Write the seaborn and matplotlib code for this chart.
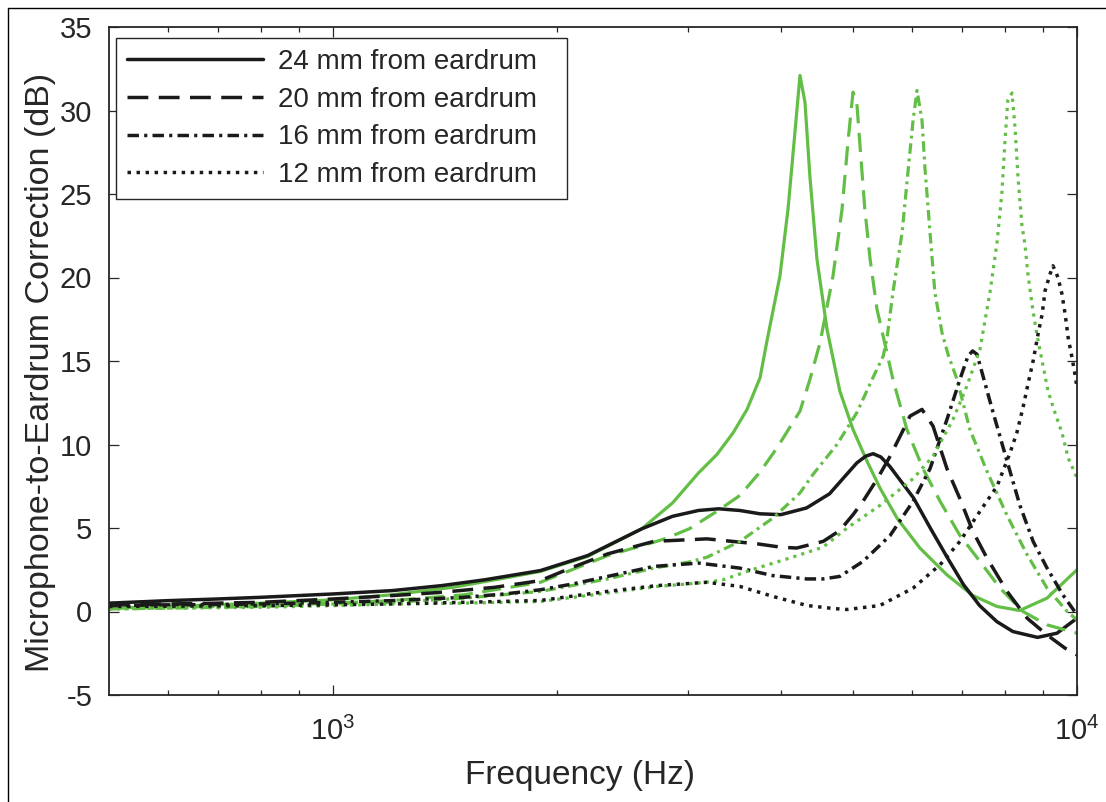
import matplotlib
matplotlib.use("Agg")
import matplotlib.pyplot as plt
from matplotlib.lines import Line2D
from matplotlib.ticker import FixedLocator, FixedFormatter, NullFormatter
import seaborn as sns

# ── Data (frequency in Hz, correction in dB) ──
f_24_black = [500, 600, 700, 800, 1000, 1200, 1400, 1600, 1900, 2200, 2600, 2860, 3100, 3300,
              3520, 3750, 4000, 4330, 4650, 4900, 5060, 5200, 5320, 5450, 5600, 6030, 6350,
              6700, 7040, 7400, 7800, 8200, 8850, 9400, 10000]
v_24_black = [0.5, 0.65, 0.75, 0.85, 1.05, 1.25, 1.55, 1.9, 2.45, 3.35, 4.95, 5.7, 6.05, 6.15,
              6.05, 5.85, 5.8, 6.2, 7.05, 8.2, 8.9, 9.3, 9.45, 9.25, 8.7, 6.8, 5.0,
              3.2, 1.6, 0.35, -0.6, -1.2, -1.55, -1.3, -0.4]

f_24_green = [500, 600, 800, 1000, 1200, 1450, 1700, 1900, 2200, 2600, 2860, 3100, 3281, 3450,
              3602, 3750, 3827, 3988, 4089, 4166, 4243, 4309, 4376, 4472, 4613, 4800, 5000,
              5221, 5434, 5728, 6150, 6684, 7244, 7808, 8375, 9114, 10000]
v_24_green = [0.2, 0.3, 0.5, 0.7, 1.0, 1.45, 2.0, 2.4, 3.3, 4.95, 6.5, 8.3, 9.4, 10.7,
              12.1, 14.0, 16.1, 20.1, 24.1, 28.1, 32.1, 30.5, 26.0, 21.1, 16.9, 13.2, 10.9,
              9.0, 7.4, 5.6, 3.8, 2.2, 0.96, 0.3, 0.06, 0.8, 2.5]

f_20_black = [500, 600, 700, 800, 1000, 1200, 1400, 1650, 1900, 2100, 2340, 2700, 3180, 3720,
              4000, 4200, 4560, 4800, 5000, 5157, 5400, 5608, 5800, 5964, 6190, 6405, 6687,
              6961, 7245, 7568, 8054, 8570, 9114, 9640, 10000]
v_20_black = [0.4, 0.45, 0.5, 0.55, 0.75, 0.95, 1.15, 1.45, 1.85, 2.65, 3.45, 4.2, 4.35, 4.05,
              3.85, 3.8, 4.2, 4.85, 5.8, 6.6, 8.0, 9.3, 10.6, 11.7, 12.1, 11.1, 8.55,
              6.75, 4.8, 3.2, 1.2, -0.4, -1.4, -2.2, -2.6]

f_20_green = [500, 600, 800, 1000, 1200, 1500, 1900, 2340, 2700, 2813, 3018, 3281, 3524, 3749,
              3952, 4243, 4376, 4515, 4700, 4833, 4922, 5000, 5058, 5105, 5186, 5271, 5385,
              5520, 5657, 5907, 6209, 6546, 6961, 7406, 7880, 8460, 9114, 10000]
v_20_green = [0.2, 0.25, 0.35, 0.5, 0.65, 1.0, 1.75, 3.35, 4.15, 4.4, 4.97, 6.0, 6.95, 8.35,
              9.8, 12.0, 13.9, 16.1, 20.1, 24.1, 28.1, 31.1, 30.5, 28.1, 24.1, 21.1, 18.1,
              16.0, 13.9, 10.9, 8.55, 6.6, 4.55, 3.0, 1.4, 0.0, -0.8, -1.3]

f_16_black = [500, 600, 700, 800, 1000, 1200, 1500, 1700, 1900, 2100, 2340, 2700, 3100, 3520,
              3900, 4330, 4556, 4800, 5157, 5608, 6021, 6345, 6687, 6961, 7137, 7240, 7338,
              7709, 8054, 8381, 8730, 9114, 9571, 10000]
v_16_black = [0.35, 0.4, 0.42, 0.45, 0.55, 0.65, 0.85, 1.05, 1.3, 1.65, 2.1, 2.7, 2.9, 2.6,
              2.15, 1.95, 1.95, 2.1, 3.0, 4.55, 6.6, 8.55, 11.5, 13.9, 15.3, 15.6, 15.4,
              11.95, 9.0, 6.35, 4.2, 2.6, 1.0, -0.2]

f_16_green = [500, 600, 800, 1000, 1200, 1500, 1900, 2340, 2700, 3000, 3182, 3524, 3904, 4243,
              4416, 4757, 5058, 5318, 5490, 5555, 5657, 5820, 5932, 6021, 6095, 6190, 6248,
              6345, 6442, 6585, 6709, 6898, 7178, 7568, 8054, 8570, 9114, 9697, 10000]
v_16_green = [0.15, 0.2, 0.3, 0.45, 0.55, 0.8, 1.2, 1.95, 2.6, 2.95, 3.25, 4.2, 5.6, 7.1,
              8.2, 10.0, 11.9, 14.0, 15.3, 16.4, 19.1, 22.7, 26.5, 29.4, 31.2, 29.4, 26.5,
              22.7, 19.1, 16.7, 15.4, 13.9, 10.9, 8.4, 5.75, 3.4, 1.4, 0.0, -0.5]

f_12_black = [500, 600, 800, 1000, 1200, 1500, 1900, 2333, 2727, 3182, 3524, 3904, 4335, 4700,
              4909, 5434, 6021, 6546, 6961, 7406, 7808, 8128, 8301, 8460, 8591, 8730, 8864,
              8977, 9059, 9199, 9284, 9429, 9546, 9640, 9730, 9847, 9938, 10000]
v_12_black = [0.3, 0.32, 0.35, 0.4, 0.45, 0.55, 0.66, 1.2, 1.55, 1.75, 1.5, 0.9, 0.36, 0.18,
              0.12, 0.36, 1.4, 2.8, 4.2, 6.0, 7.5, 9.5, 10.7, 12.2, 13.6, 15.0, 16.6,
              17.8, 19.2, 20.2, 20.7, 20.0, 19.0, 17.8, 16.4, 15.2, 14.2, 13.4]

f_12_green = [500, 600, 800, 1000, 1200, 1500, 1900, 2333, 2727, 3182, 3343, 3715, 4111, 4556,
              4909, 5434, 6021, 6405, 6813, 7112, 7406, 7638, 7808, 7927, 8000, 8073, 8178,
              8254, 8331, 8434, 8511, 8591, 8700, 8831, 8977, 9142, 9342, 9546, 9730, 10000]
v_12_green = [0.15, 0.2, 0.25, 0.35, 0.45, 0.5, 0.6, 1.1, 1.5, 1.75, 1.9, 2.6, 3.2, 3.85,
              5.0, 6.35, 7.95, 9.3, 11.5, 13.5, 15.7, 19.1, 22.1, 25.1, 28.1, 30.6, 31.05,
              29.0, 26.0, 23.1, 22.0, 20.2, 18.4, 16.6, 15.0, 13.2, 11.9, 10.7, 9.2, 8.0]

labels = ["24 mm from eardrum", "20 mm from eardrum", "16 mm from eardrum", "12 mm from eardrum"]
y_ticks = [-5, 0, 5, 10, 15, 20, 25, 30, 35]
x_major = [1000, 10000]
x_major_labels = [r"$10^{3}$", r"$10^{4}$"]
x_minor = [600, 700, 800, 900, 2000, 3000, 4000, 5000, 6000, 7000, 8000, 9000]

# ── Style ─────────────────────────────────────────────────────────────
sns.set_style("ticks")
TXT = "#262626"
plt.rcParams.update({
    "axes.unicode_minus": False,
    "mathtext.default": "regular",
    "text.color": TXT,
    "axes.labelcolor": TXT,
    "xtick.color": TXT,
    "ytick.color": TXT,
    "axes.edgecolor": TXT,
})
plt.rcParams["font.family"] = ["Liberation Sans", "DejaVu Sans"]

BLACK = "#1a1a1a"
GREEN = "#63be46"
styles = ["-", (0, (6, 3)), (0, (3.3, 1.5, 0.9, 1.5)), (0, (1.0, 1.6))]

series = [
    (f_24_black, v_24_black, f_24_green, v_24_green),
    (f_20_black, v_20_black, f_20_green, v_20_green),
    (f_16_black, v_16_black, f_16_green, v_16_green),
    (f_12_black, v_12_black, f_12_green, v_12_green),
]

fig = plt.figure(figsize=(11.06, 8.02), dpi=100)
ax = fig.add_axes([109 / 1106, 1 - 695 / 802, 968 / 1106, 668 / 802])
ax.set_xscale("log")

handles = []
for (fb, vb, fg, vg), ls, lab in zip(series, styles, labels):
    sns.lineplot(x=fg, y=vg, ax=ax, color=GREEN, linewidth=2.3, linestyle=ls, sort=False)
    sns.lineplot(x=fb, y=vb, ax=ax, color=BLACK, linewidth=2.5, linestyle=ls, sort=False)
    handles.append(Line2D([], [], color=BLACK, linewidth=2.5, linestyle=ls, label=lab))

ax.set_xlim(500, 10000)
ax.set_ylim(-5, 35)
ax.xaxis.set_major_locator(FixedLocator(x_major))
ax.xaxis.set_major_formatter(FixedFormatter(x_major_labels))
ax.xaxis.set_minor_locator(FixedLocator(x_minor))
ax.xaxis.set_minor_formatter(NullFormatter())
ax.set_yticks(y_ticks)
ax.set_yticklabels([str(t) for t in y_ticks])

ax.tick_params(axis="both", which="both", direction="in", top=True, right=True, width=0.9)
ax.tick_params(axis="both", which="major", length=7, labelsize=21)
ax.tick_params(axis="x", which="major", pad=16)
ax.tick_params(axis="y", which="major", pad=12)
ax.tick_params(axis="x", which="minor", length=3.5)
for sp in ax.spines.values():
    sp.set_linewidth(1.3)
    sp.set_visible(True)

ax.set_xlabel("Frequency (Hz)", fontsize=24)
ax.set_ylabel("Microphone-to-Eardrum Correction (dB)", fontsize=24.5)
ax.xaxis.set_label_coords((580 - 109) / 968, (695 - 760) / 668)
ax.yaxis.set_label_coords((56 - 109) / 968, (695 - 372) / 668)

leg = ax.legend(handles=handles, loc="upper left",
                bbox_to_anchor=(7 / 968, (695 - 197) / 668, 451 / 968, 159 / 668), mode="expand",
                borderaxespad=0, fontsize=20, handlelength=4.9, handletextpad=0.55,
                labelspacing=0.42, borderpad=0.4, frameon=True, fancybox=False,
                framealpha=1, edgecolor=TXT)
leg.get_frame().set_linewidth(1.0)

# partial figure border (top and left edges)
fig.add_artist(Line2D([8 / 1106, 1], [1 - 8 / 802, 1 - 8 / 802], transform=fig.transFigure,
                      color="black", linewidth=1.0))
fig.add_artist(Line2D([8 / 1106, 8 / 1106], [0, 1 - 8 / 802], transform=fig.transFigure,
                      color="black", linewidth=1.0))

fig.savefig("out.png", dpi=100)
